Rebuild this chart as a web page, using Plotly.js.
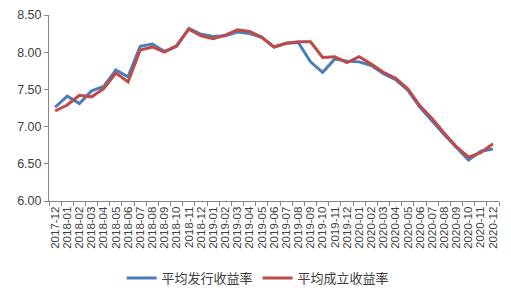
<!DOCTYPE html>
<html>
<head>
<meta charset="utf-8">
<script src="https://cdn.plot.ly/plotly-3.0.1.min.js"></script>
<style>html,body{margin:0;padding:0;background:#fff;}#chart{width:511px;height:299px;}</style>
</head>
<body>
<div id="chart"></div>
<script>
const months = ["2017-12",
  "2018-01","2018-02","2018-03","2018-04","2018-05","2018-06","2018-07","2018-08","2018-09","2018-10","2018-11","2018-12",
  "2019-01","2019-02","2019-03","2019-04","2019-05","2019-06","2019-07","2019-08","2019-09","2019-10","2019-11","2019-12",
  "2020-01","2020-02","2020-03","2020-04","2020-05","2020-06","2020-07","2020-08","2020-09","2020-10","2020-11","2020-12"];
const issueYield = [7.26,
  7.41,7.31,7.48,7.54,7.76,7.67,8.08,8.11,8.01,8.08,8.32,8.24,
  8.21,8.22,8.27,8.25,8.20,8.07,8.12,8.13,7.87,7.73,7.91,7.88,
  7.87,7.82,7.71,7.63,7.49,7.26,7.07,6.89,6.72,6.55,6.67,6.70];
const establishYield = [7.21,
  7.29,7.42,7.40,7.51,7.72,7.60,8.03,8.07,8.00,8.09,8.31,8.22,
  8.18,8.23,8.30,8.28,8.20,8.07,8.12,8.14,8.14,7.93,7.94,7.86,
  7.94,7.84,7.73,7.65,7.51,7.28,7.11,6.91,6.73,6.59,6.65,6.77];
const seriesNames = ["平均发行收益率","平均成立收益率"];
const yTicks = [6.00,6.50,7.00,7.50,8.00,8.50];

const fontFam = "Liberation Sans, Arial, Noto Sans CJK SC, sans-serif";
const traces = [
  {x: months, y: issueYield, name: seriesNames[0], type: "scatter", mode: "lines",
   line: {color: "#4a7ebb", width: 3}},
  {x: months, y: establishYield, name: seriesNames[1], type: "scatter", mode: "lines",
   line: {color: "#be4b48", width: 3}}
];
const layout = {
  width: 511, height: 299,
  margin: {l: 49, r: 12, t: 15, b: 98},
  paper_bgcolor: "#fff", plot_bgcolor: "#fff",
  font: {family: fontFam, color: "#404040", size: 12},
  showlegend: true,
  legend: {orientation: "h", xref: "container", yref: "container",
    x: 0.505, xanchor: "center", y: 0.07, yanchor: "middle",
    font: {family: "Noto Sans CJK SC, sans-serif", size: 13, color: "#404040"},
    tracegroupgap: 0},
  xaxis: {
    type: "category", showgrid: false, zeroline: false,
    showline: true, linecolor: "#868686", linewidth: 1,
    ticks: "outside", ticklen: 4, tickcolor: "#868686", tickson: "boundaries",
    tickmode: "array", tickvals: months, ticktext: months,
    tickangle: -90, tickfont: {size: 11.5, family: fontFam, color: "#404040"},
    range: [-0.5, months.length - 0.5], automargin: false
  },
  yaxis: {
    range: [6.0, 8.5], tickvals: yTicks, ticktext: yTicks.map(v => v.toFixed(2)),
    showgrid: false, zeroline: false,
    showline: true, linecolor: "#868686", linewidth: 1,
    ticks: "outside", ticklen: 4, tickcolor: "#868686",
    tickfont: {size: 12.5, family: fontFam, color: "#404040"}, automargin: false
  }
};
Plotly.newPlot("chart", traces, layout, {staticPlot: true, displayModeBar: false});
</script>
</body>
</html>
